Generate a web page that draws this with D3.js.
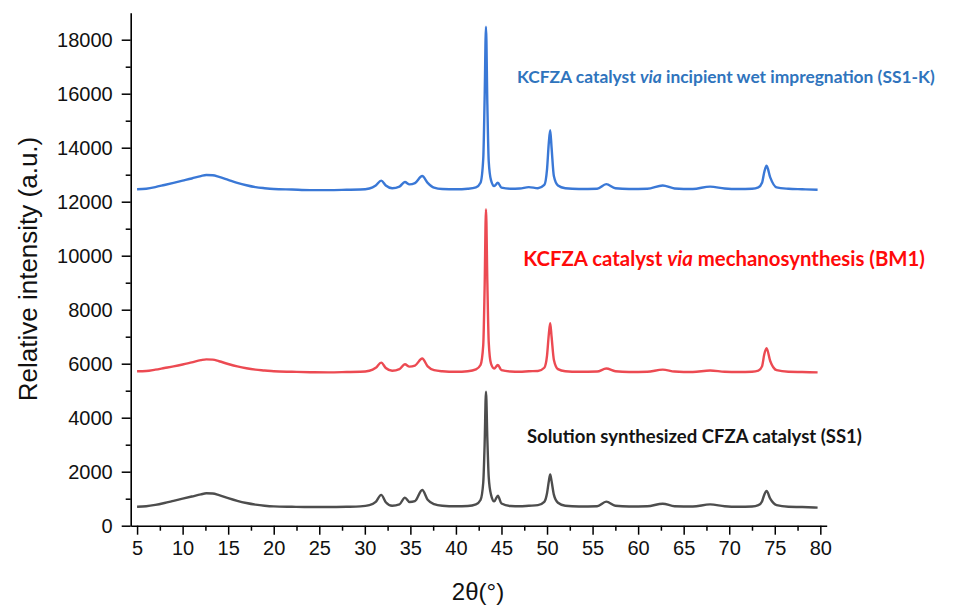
<!DOCTYPE html>
<html>
<head>
<meta charset="utf-8">
<script src="https://cdn.jsdelivr.net/npm/d3@7"></script>
<style>
  html, body { margin: 0; padding: 0; background: #fff; }
  svg { display: block; }
</style>
</head>
<body>
<svg id="chart" width="966" height="607"></svg>
<script>
// 2θ positions (degrees) shared by the three diffraction patterns
const twoTheta = [5, 6, 7, 8, 9, 10, 11, 12, 12.6, 13.3, 14, 15, 16, 17, 18, 19, 20, 22, 24, 26,
  28, 29.5, 30.5, 31.2, 31.8, 32.3, 33, 33.8, 34.4, 34.9, 35.5, 36.3, 36.9, 37.6, 38.5, 40,
  41.3, 42.2, 42.7, 43.0, 43.15, 43.3, 43.45, 43.6, 43.85, 44.2, 44.6, 45.0, 46, 47, 48, 49,
  49.7, 50.0, 50.2, 50.35, 50.5, 50.75, 51.2, 52, 53.5, 55.5, 56.5, 57.5, 59, 61, 62.7, 64,
  66, 67.9, 69.5, 71, 72.5, 73.2, 73.6, 73.85, 74.1, 74.5, 75.2, 76.5, 78, 79.7];

// Solution synthesized CFZA catalyst (SS1)
const ss1 = [700, 720, 770, 840, 920, 1000, 1080, 1160, 1200, 1190, 1130, 1020, 920, 840, 780, 740, 715, 700, 690, 690,
  700, 715, 760, 880, 1140, 870, 740, 790, 1040, 880, 910, 1320, 960, 800, 740, 720,
  730, 790, 950, 1600, 3000, 4960, 3200, 1800, 1150, 900, 1110, 820, 730, 720, 740, 760,
  880, 1200, 1650, 1900, 1650, 1150, 850, 740, 710, 720, 890, 740, 710, 720, 815, 720,
  710, 790, 720, 700, 710, 760, 900, 1150, 1285, 1000, 760, 700, 690, 670];

// KCFZA catalyst via mechanosynthesis (BM1)
const bm1 = [5720, 5730, 5780, 5840, 5900, 5970, 6050, 6130, 6160, 6150, 6090, 5990, 5900, 5830, 5780, 5750, 5720, 5700, 5685, 5680,
  5690, 5700, 5740, 5850, 6040, 5840, 5740, 5800, 5980, 5890, 5930, 6190, 5900, 5760, 5720, 5700,
  5720, 5790, 5950, 6700, 8800, 11720, 9000, 6800, 6000, 5820, 5950, 5760, 5710, 5700, 5720, 5730,
  5850, 6300, 7100, 7500, 7000, 6150, 5800, 5720, 5700, 5710, 5820, 5720, 5690, 5700, 5780, 5710,
  5690, 5750, 5700, 5690, 5700, 5740, 5900, 6350, 6570, 6100, 5760, 5700, 5690, 5680];

// KCFZA catalyst via incipient wet impregnation (SS1-K)
const ss1k = [12460, 12480, 12540, 12620, 12700, 12780, 12860, 12950, 12990, 12980, 12920, 12810, 12700, 12610, 12540, 12500, 12470, 12450, 12430, 12430,
  12440, 12450, 12490, 12600, 12780, 12600, 12500, 12560, 12730, 12640, 12690, 12950, 12700, 12520, 12470, 12460,
  12480, 12530, 12700, 13600, 15800, 18480, 15600, 13500, 12800, 12580, 12700, 12520, 12480, 12490, 12540, 12500,
  12620, 13200, 14200, 14650, 14000, 12950, 12600, 12500, 12470, 12480, 12650, 12500, 12470, 12480, 12600, 12490,
  12470, 12560, 12490, 12470, 12480, 12530, 12700, 13100, 13330, 12900, 12530, 12480, 12460, 12440];

const xTicks = [5, 10, 15, 20, 25, 30, 35, 40, 45, 50, 55, 60, 65, 70, 75, 80];
const yTicks = [0, 2000, 4000, 6000, 8000, 10000, 12000, 14000, 16000, 18000];

const seriesNames = ["SS1", "BM1", "SS1-K"];
const seriesValues = [ss1, bm1, ss1k];
const seriesColors = ["#4d4d4d", "#ec4a52", "#3a78d6"];

const labelParts = [
  [["Solution synthesized CFZA catalyst (SS1)", "normal"]],
  [["KCFZA catalyst ", "normal"], ["via", "italic"], [" mechanosynthesis (BM1)", "normal"]],
  [["KCFZA catalyst ", "normal"], ["via", "italic"], [" incipient wet impregnation (SS1-K)", "normal"]]
];
const labelColors = ["#141414", "#ff0a0a", "#2f74bd"];

const svg = d3.select("#chart");

const x = d3.scaleLinear().domain([4.3, 80.7]).range([130.7, 826.7]);
const y = d3.scaleLinear().domain([0, 19000]).range([525.7, 12.7]);

// patterns
const line = d3.line()
  .x(d => x(d[0]))
  .y(d => y(d[1]))
  .curve(d3.curveMonotoneX);

seriesValues.forEach((vals, i) => {
  svg.append("path")
    .datum(twoTheta.map((t, k) => [t, vals[k]]))
    .attr("fill", "none")
    .attr("stroke", seriesColors[i])
    .attr("stroke-width", 2.4)
    .attr("stroke-linejoin", "round")
    .attr("d", line);
});

// axes
const tickFont = "'Liberation Sans', Arial, sans-serif";

const xMinor = d3.range(7.5, 80, 5);
const yMinor = d3.range(1000, 19000, 2000);

svg.append("g")
  .attr("transform", "translate(0,525.7)")
  .call(d3.axisBottom(x).tickValues(xMinor).tickSize(5).tickFormat(""))
  .call(g => g.select(".domain").remove())
  .selectAll("line").attr("stroke-width", 1.5);

svg.append("g")
  .attr("transform", "translate(130.7,0)")
  .call(d3.axisLeft(y).tickValues(yMinor).tickSize(5).tickFormat(""))
  .call(g => g.select(".domain").remove())
  .selectAll("line").attr("stroke-width", 1.5);

const xAxis = svg.append("g")
  .attr("transform", "translate(0,525.7)")
  .call(d3.axisBottom(x).tickValues(xTicks).tickSize(9).tickSizeOuter(0).tickPadding(6).tickFormat(d3.format("d")));
xAxis.select(".domain").attr("stroke-width", 1.6);
xAxis.selectAll(".tick line").attr("stroke-width", 1.5);
xAxis.selectAll("text").attr("font-family", tickFont).attr("font-size", 20).attr("fill", "#111");

const yAxis = svg.append("g")
  .attr("transform", "translate(130.7,0)")
  .call(d3.axisLeft(y).tickValues(yTicks).tickSize(9).tickSizeOuter(0).tickPadding(9).tickFormat(d3.format("d")));
yAxis.select(".domain").attr("stroke-width", 1.6);
yAxis.selectAll(".tick line").attr("stroke-width", 1.5);
yAxis.selectAll("text").attr("font-family", tickFont).attr("font-size", 20).attr("fill", "#111");

// axis titles
svg.append("text")
  .attr("transform", "translate(28,269) rotate(-90)")
  .attr("text-anchor", "middle")
  .attr("dominant-baseline", "central")
  .attr("font-family", tickFont)
  .attr("font-size", 26)
  .attr("fill", "#111")
  .text("Relative intensity (a.u.)");

svg.append("text")
  .attr("x", 478)
  .attr("y", 600)
  .attr("text-anchor", "middle")
  .attr("font-family", tickFont)
  .attr("font-size", 24)
  .attr("fill", "#111")
  .text("2θ(°)");

// pattern labels: [left 2θ, baseline intensity, right 2θ]
const labelPos = [[47.8, 3070, 84.6], [47.4, 9620, 91.5], [46.7, 16410, 92.6]];

labelParts.forEach((parts, i) => {
  const [t0, v, t1] = labelPos[i];
  const txt = svg.append("text")
    .attr("x", x(t0))
    .attr("y", y(v))
    .attr("font-family", "Lato, 'Open Sans', sans-serif")
    .attr("font-weight", 700)
    .attr("font-size", 16)
    .attr("fill", labelColors[i]);
  parts.forEach(([s, style]) => txt.append("tspan").attr("font-style", style).text(s));
  const target = x(t1) - x(t0);
  const w = txt.node().getComputedTextLength();
  txt.attr("font-size", 16 * target / w);
});
</script>
</body>
</html>
